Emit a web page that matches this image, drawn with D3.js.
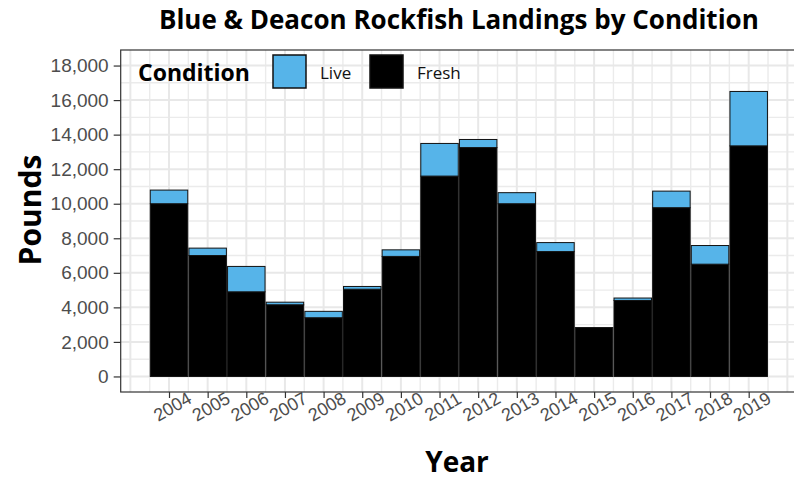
<!DOCTYPE html>
<html>
<head>
<meta charset="utf-8">
<script src="https://cdn.jsdelivr.net/npm/d3@7"></script>
<style>
  body { margin: 0; background: #fff; }
  svg { display: block; font-family: "Open Sans", "Noto Sans", sans-serif; }
</style>
</head>
<body>
<svg id="chart"></svg>
<script>
// data (pounds)
const years = [2004, 2005, 2006, 2007, 2008, 2009, 2010, 2011, 2012, 2013, 2014, 2015, 2016, 2017, 2018, 2019]
const fresh = [10000, 7000, 4900, 4150, 3400, 5050, 6950, 11600, 13250, 10000, 7230, 2830, 4400, 9770, 6500, 13350]
const live = [790, 430, 1470, 150, 370, 160, 380, 1890, 470, 640, 520, 0, 140, 960, 1080, 3150]
const yTicks = [0, 2000, 4000, 6000, 8000, 10000, 12000, 14000, 16000, 18000]
const conditions = ["Live", "Fresh"]
const colors = { Live: "#56B4E9", Fresh: "#000000" }

const W = 794, H = 482
const panel = { left: 120.7, top: 50, right: 797, bottom: 392 }

let svg = d3.select("#chart").attr("width", W).attr("height", H)

let x = d3.scaleLinear().domain([2002.75, 2020.25]).range([panel.left, panel.right])
let y = d3.scaleLinear().domain([-900, 18900]).range([panel.bottom, panel.top])
let step = x(2005) - x(2004)
let barW = step * 0.97

// clip so the panel can run off the right edge like the original
svg.append("clipPath").attr("id", "clip")
  .append("rect")
  .attr("x", panel.left).attr("y", panel.top)
  .attr("width", panel.right - panel.left).attr("height", panel.bottom - panel.top)

let g = svg.append("g").attr("clip-path", "url(#clip)")

// grid: minor then major
let minorY = d3.range(-1000, 19001, 1000).filter(v => v % 2000 !== 0)
let minorX = d3.range(2002.5, 2021, 1)
let majorX = d3.range(2002, 2021, 1)
g.selectAll(".gminy").data(minorY).join("line")
  .attr("x1", panel.left).attr("x2", panel.right)
  .attr("y1", d => y(d)).attr("y2", d => y(d))
  .attr("stroke", "#ebebeb").attr("stroke-width", 1.4)
g.selectAll(".gminx").data(minorX).join("line")
  .attr("y1", panel.top).attr("y2", panel.bottom)
  .attr("x1", d => x(d)).attr("x2", d => x(d))
  .attr("stroke", "#ebebeb").attr("stroke-width", 1.4)
g.selectAll(".gmajy").data(yTicks).join("line")
  .attr("x1", panel.left).attr("x2", panel.right)
  .attr("y1", d => y(d)).attr("y2", d => y(d))
  .attr("stroke", "#e8e8e8").attr("stroke-width", 2)
g.selectAll(".gmajx").data(majorX).join("line")
  .attr("y1", panel.top).attr("y2", panel.bottom)
  .attr("x1", d => x(d)).attr("x2", d => x(d))
  .attr("stroke", "#e8e8e8").attr("stroke-width", 2)

// stacked bars, Fresh at the bottom, Live on top
let rows = years.map((yr, i) => ({ year: yr, Fresh: fresh[i], Live: live[i] }))
let stacked = d3.stack().keys(["Fresh", "Live"])(rows)

g.selectAll(".layer").data(stacked).join("g")
  .attr("fill", d => colors[d.key])
  .selectAll("rect").data(d => d.filter(s => s[1] > s[0])).join("rect")
  .attr("x", d => x(d.data.year) - barW / 2)
  .attr("width", barW)
  .attr("y", d => y(d[1]))
  .attr("height", d => y(d[0]) - y(d[1]))
  .attr("stroke", "#111").attr("stroke-width", 1)

// panel border
svg.append("rect")
  .attr("x", panel.left).attr("y", panel.top)
  .attr("width", panel.right - panel.left).attr("height", panel.bottom - panel.top)
  .attr("fill", "none").attr("stroke", "#333").attr("stroke-width", 1.2)

// y axis
let yAxis = svg.append("g")
  .attr("transform", `translate(${panel.left},0)`)
  .call(d3.axisLeft(y).tickValues(yTicks).tickSize(7).tickPadding(5).tickFormat(d3.format(",")))
yAxis.select(".domain").remove()
yAxis.selectAll("line").attr("stroke", "#333").attr("stroke-width", 1.2)
yAxis.selectAll("text").attr("fill", "#4d4d4d").style("font-size", "19px")

// x axis with tilted labels
let xAxis = svg.append("g")
  .attr("transform", `translate(0,${panel.bottom})`)
  .call(d3.axisBottom(x).tickValues(years).tickSize(6).tickFormat(d3.format("d")))
xAxis.select(".domain").remove()
xAxis.selectAll("line").attr("stroke", "#333").attr("stroke-width", 1.2)
xAxis.selectAll("text")
  .attr("fill", "#4d4d4d").style("font-size", "18px")
  .attr("text-anchor", "middle")
  .attr("y", 0).attr("dy", 0)
  .attr("transform", "translate(6,20) rotate(-30)")

// titles
svg.append("text")
  .attr("x", (panel.left + panel.right) / 2).attr("y", 29)
  .attr("text-anchor", "middle")
  .style("font-size", "26px").style("font-weight", "bold")
  .text("Blue & Deacon Rockfish Landings by Condition")

svg.append("text")
  .attr("x", 457).attr("y", 472)
  .attr("text-anchor", "middle")
  .style("font-size", "28px").style("font-weight", "bold")
  .text("Year")

svg.append("text")
  .attr("transform", "translate(41,210) rotate(-90)")
  .attr("text-anchor", "middle")
  .style("font-size", "30px").style("font-weight", "bold")
  .text("Pounds")

// legend inside the panel, no background
let legend = svg.append("g")
legend.append("text")
  .attr("x", 138).attr("y", 81)
  .style("font-size", "23px").style("font-weight", "bold")
  .text("Condition")
let keyX = { Live: 273, Fresh: 370 }
conditions.forEach(c => {
  legend.append("rect")
    .attr("x", keyX[c]).attr("y", 55)
    .attr("width", 33).attr("height", 33)
    .attr("fill", colors[c]).attr("stroke", "#111").attr("stroke-width", 1.5)
  legend.append("text")
    .attr("x", keyX[c] + 47).attr("y", 79)
    .style("font-size", "17px").attr("fill", "#111")
    .text(c)
})
</script>
</body>
</html>
